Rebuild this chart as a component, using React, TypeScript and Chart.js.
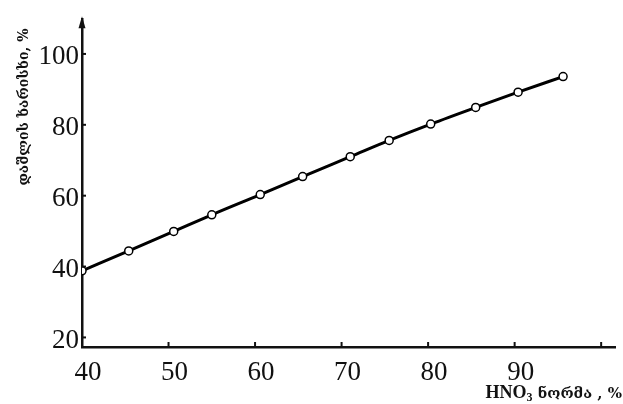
import React, { useEffect, useRef } from "react";
import { Chart, registerables } from "chart.js";

Chart.register(...registerables);

const xValues = [40, 45.4, 50.6, 55, 60.6, 65.5, 71, 75.5, 80.3, 85.5, 90.4, 95.6];
const yValues = [38.8, 44.4, 49.9, 54.6, 60.3, 65.4, 71.0, 75.6, 80.2, 84.9, 89.2, 93.6];
const xTicks = [40, 50, 60, 70, 80, 90, 100];
const xTickLabels = ["40", "50", "60", "70", "80", "90", ""];
const yTicks = [20, 40, 60, 80, 100];
const yTitle = "დაშლის ხარისხი, %";
const xTitleMain = "HNO";
const xTitleSub = "3";
const xTitleRest = " ნორმა , %";

const SERIF = "'Liberation Serif', 'DejaVu Serif', serif";
const INK = "#111";

const decorPlugin = {
  id: "decor",
  afterDraw(chart: any) {
    const ctx = chart.ctx;
    const xs = chart.scales.x;
    const ys = chart.scales.y;
    const area = chart.chartArea;
    ctx.save();
    ctx.strokeStyle = INK;
    ctx.fillStyle = INK;
    ctx.lineWidth = 2;
    // inward tick marks
    xTicks.forEach((t) => {
      if (t === xTicks[0]) return;
      const px = xs.getPixelForValue(t);
      ctx.beginPath();
      ctx.moveTo(px, area.bottom);
      ctx.lineTo(px, area.bottom - 5);
      ctx.stroke();
    });
    yTicks.forEach((t) => {
      const py = ys.getPixelForValue(t);
      ctx.beginPath();
      ctx.moveTo(area.left, py);
      ctx.lineTo(area.left + 4, py);
      ctx.stroke();
    });
    // arrow on y axis
    ctx.beginPath();
    ctx.moveTo(area.left, area.top - 3);
    ctx.lineTo(area.left - 3.5, area.top + 9);
    ctx.lineTo(area.left + 3.5, area.top + 9);
    ctx.closePath();
    ctx.fill();
    // y title
    ctx.save();
    ctx.translate(24, 107);
    ctx.rotate(-Math.PI / 2);
    ctx.font = "bold 14px 'DejaVu Serif', 'DejaVu Sans', serif";
    ctx.textAlign = "center";
    ctx.textBaseline = "middle";
    ctx.fillText(yTitle, 0, 0);
    ctx.restore();
    // x title
    const mainFont = "bold 18px " + SERIF;
    const subFont = "bold 12px " + SERIF;
    const restFont = "bold 15px 'DejaVu Serif', serif";
    ctx.textBaseline = "alphabetic";
    ctx.textAlign = "left";
    ctx.font = mainFont;
    const w1 = ctx.measureText(xTitleMain).width;
    ctx.font = subFont;
    const w2 = ctx.measureText(xTitleSub).width;
    ctx.font = restFont;
    const w3 = ctx.measureText(xTitleRest).width;
    let x0 = 622 - (w1 + w2 + w3);
    const base = 398;
    ctx.font = mainFont;
    ctx.fillText(xTitleMain, x0, base);
    x0 += w1;
    ctx.font = subFont;
    ctx.fillText(xTitleSub, x0, base + 3);
    x0 += w2;
    ctx.font = restFont;
    ctx.fillText(xTitleRest, x0, base);
    ctx.restore();
  },
};

export default function App() {
  const ref = useRef<HTMLCanvasElement | null>(null);
  useEffect(() => {
    if (!ref.current) return;
    const chart = new Chart(ref.current, {
      type: "line",
      data: {
        datasets: [
          {
            data: xValues.map((x, i) => ({ x, y: yValues[i] })),
            borderColor: "#000",
            borderWidth: 3,
            cubicInterpolationMode: "monotone",
            pointRadius: 4,
            pointBorderWidth: 1.5,
            pointBackgroundColor: "#fff",
            pointBorderColor: "#000",
          },
        ],
      },
      options: {
        animation: false,
        responsive: true,
        maintainAspectRatio: false,
        layout: { padding: { left: 0, right: 8, top: 7, bottom: 0 } },
        plugins: { legend: { display: false }, tooltip: { enabled: false } },
        scales: {
          x: {
            type: "linear",
            min: 40,
            max: 101.6,
            afterBuildTicks: (s: any) => {
              s.ticks = xTicks.map((v) => ({ value: v }));
            },
            afterFit: (s: any) => {
              s.height = 57;
            },
            grid: { display: false, drawTicks: false },
            border: { display: true, color: INK, width: 2.5 },
            ticks: {
              color: INK,
              font: { family: SERIF, size: 27 },
              padding: 10,
              labelOffset: 6,
              maxRotation: 0,
              autoSkip: false,
              callback: (v: any) => xTickLabels[xTicks.indexOf(Number(v))] ?? "",
            },
          },
          y: {
            type: "linear",
            min: 17.3,
            max: 109.8,
            afterBuildTicks: (s: any) => {
              s.ticks = yTicks.map((v) => ({ value: v }));
            },
            afterFit: (s: any) => {
              s.width = 82;
            },
            grid: { display: false, drawTicks: false },
            border: { display: true, color: INK, width: 2.5 },
            ticks: {
              color: INK,
              font: { family: SERIF, size: 27 },
              padding: 3,
              labelOffset: 3,
              autoSkip: false,
              callback: (v: any) => String(v),
            },
          },
        },
      },
      plugins: [decorPlugin],
    });
    return () => chart.destroy();
  }, []);
  return (
    <div style={{ position: "fixed", left: 0, top: 0, width: 623, height: 404, background: "#fff" }}>
      <canvas ref={ref} />
    </div>
  );
}
